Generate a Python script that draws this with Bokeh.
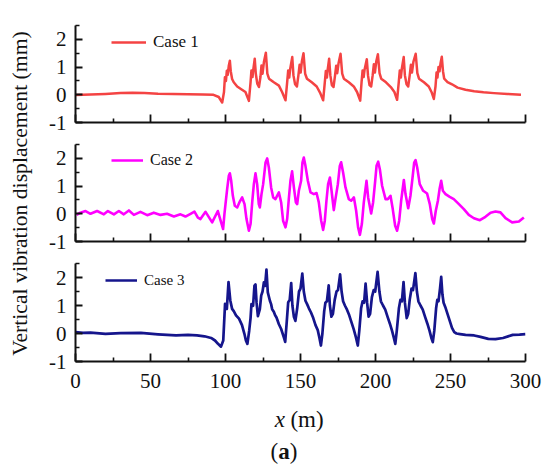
from bokeh.plotting import figure
from bokeh.models import Range1d, FixedTicker, Legend, LegendItem, Label, ColumnDataSource
from bokeh.layouts import row, column
from bokeh.embed import file_html
from bokeh.resources import INLINE

SERIF = "Liberation Serif"

# ---------------- data ----------------
case1_pts = [
    (0, -0.01), (10, 0.01), (20, 0.03), (30, 0.06), (38, 0.07), (46, 0.06), (55, 0.04),
    (65, 0.03), (75, 0.02), (85, 0.01), (92, 0.0), (95.5, -0.08), (97.8, -0.28),
    (99.0, 0.1), (99.6, 0.63), (100.3, 0.5), (100.9, 0.87), (101.5, 0.72), (102.2, 1.05),
    (102.9, 1.23), (103.5, 0.85), (104.4, 0.57), (105.5, 0.45), (107.8, 0.3), (110.0, 0.22),
    (113.3, 0.1), (115.6, -0.22),
    (116.7, 0.45), (117.3, 0.88), (118.0, 0.64), (118.5, 0.9), (119.5, 1.3), (120.2, 0.76),
    (121.2, 0.4), (122.3, 0.28), (123.3, 0.64), (124.0, 1.06), (124.7, 0.76), (125.6, 1.18),
    (126.9, 1.52), (127.9, 0.76), (129.0, 0.58), (132.2, 0.45), (135.6, 0.33), (137.8, 0.09),
    (140.0, -0.2),
    (141.1, 0.45), (141.8, 0.88), (142.5, 0.62), (143.1, 0.92), (144.5, 1.36), (145.3, 0.7),
    (146.4, 0.38), (147.6, 0.3), (148.6, 0.7), (149.4, 1.08), (150.1, 0.8), (150.9, 1.2),
    (152.0, 1.5), (153.1, 0.76), (154.3, 0.58), (157.5, 0.45), (160.8, 0.3), (163.0, 0.08),
    (165.1, -0.2),
    (166.2, 0.45), (166.9, 0.86), (167.6, 0.62), (168.1, 0.9), (169.1, 1.3), (169.9, 0.7),
    (170.9, 0.35), (172.0, 0.28), (173.0, 0.68), (173.8, 1.05), (174.5, 0.78), (175.4, 1.15),
    (176.7, 1.48), (177.8, 0.76), (178.9, 0.58), (182.2, 0.45), (185.5, 0.3), (187.7, 0.1),
    (189.8, -0.21),
    (190.7, 0.45), (191.4, 0.88), (192.1, 0.64), (192.7, 0.9), (194.2, 1.28), (195.0, 0.7),
    (196.0, 0.35), (197.1, 0.3), (198.1, 0.7), (198.9, 1.1), (199.6, 0.8), (200.5, 1.2),
    (201.6, 1.46), (202.7, 0.78), (203.8, 0.58), (207.0, 0.45), (210.2, 0.28), (212.6, 0.1),
    (214.4, -0.18),
    (215.5, 0.45), (216.2, 0.88), (216.9, 0.62), (217.5, 0.92), (218.8, 1.36), (219.6, 0.7),
    (220.7, 0.38), (221.8, 0.3), (222.8, 0.7), (223.6, 1.08), (224.3, 0.8), (225.3, 1.2),
    (226.8, 1.48), (227.9, 0.78), (229.0, 0.58), (232.3, 0.45), (235.5, 0.3), (237.5, 0.08),
    (238.9, -0.15),
    (240.0, 0.3), (240.7, 0.8), (241.3, 0.62), (242.0, 1.0), (242.7, 0.85), (243.4, 1.15),
    (244.2, 1.37), (245.0, 0.85), (245.8, 0.58), (248.0, 0.46), (251.0, 0.38), (254.7, 0.26),
    (260.0, 0.18), (265.8, 0.13), (272.0, 0.09), (279.0, 0.06), (288.0, 0.03), (297.0, 0.0),
]

case2_x = [0.7, 3.3, 6.7, 10.0, 14.4, 18.9, 21.6, 25.6, 28.9, 32.2, 35.6, 38.9, 43.3, 47.8,
           52.2, 56.7, 61.0, 65.6, 70.0, 73.3, 76.7, 79.3, 81.6, 83.3, 86.7, 91.1, 94.9, 98.4,
           99.3, 100.0, 101.1, 102.2, 102.9, 103.8, 104.9, 106.2, 107.8, 109.6,
           111.1, 112.7, 114.0, 115.6, 116.7, 117.8, 118.9, 120.0, 121.1, 122.2,
           122.9, 124.0, 125.1, 126.7, 127.8, 128.9, 130.4, 131.8, 133.3, 135.6,
           137.1, 138.4, 140.0, 141.1, 142.2, 143.3, 144.4, 145.6, 146.9, 147.8,
           148.9, 150.4, 151.3, 152.2, 153.3, 154.9, 156.7, 158.9, 160.7, 162.2,
           163.8, 165.1, 166.2, 167.3, 168.4, 169.6, 170.7, 172.2, 173.3, 174.9,
           176.2, 177.1, 178.4, 180.0, 182.2, 183.8, 185.6, 187.1, 188.4, 189.6,
           190.9, 192.2, 194.0, 195.1, 197.1, 198.4, 199.8, 200.7, 201.8, 202.9,
           204.4, 206.7, 208.2, 210.0, 211.5, 213.1, 214.4, 215.8, 217.1, 218.9,
           220.0, 221.8, 223.3, 224.7, 225.8, 226.7, 227.8, 229.5, 231.8, 234.4,
           236.2, 237.8, 238.9, 240.2, 241.6, 242.7, 243.8, 244.9, 246.7, 249.5,
           252.2, 255.6, 258.9, 262.2, 265.6, 269.6, 273.3, 276.7, 280.0, 283.3,
           286.7, 291.1, 295.6, 298.9]
case2_y = [-0.04, 0.04, 0.1, 0.0, 0.1, -0.02, 0.1, -0.02, 0.1, -0.02, 0.12, -0.04, 0.07, -0.05,
           0.04, -0.04, 0.0, -0.1, -0.02, -0.1, 0.0, 0.08, -0.14, -0.19, 0.07, -0.31, 0.1, -0.55,
           0.0, 0.35, 0.89, 1.37, 1.46, 1.19, 0.65, 0.29, 0.23, 0.45,
           0.59, 0.35, -0.19, -0.61, -0.37, 0.41, 1.07, 1.46, 1.07, 0.35,
           0.23, 0.71, 1.07, 1.85, 2.0, 1.67, 0.95, 0.59, 0.53, 0.77,
           0.41, -0.25, -0.49, -0.19, 0.53, 1.19, 1.53, 0.95, 0.41, 0.35,
           0.83, 1.19, 1.85, 2.03, 1.73, 1.19, 0.77, 0.71, 0.75, 0.41,
           -0.25, -0.58, -0.25, 0.47, 1.07, 1.31, 0.83, 0.13, 0.53, 1.07,
           1.73, 1.86, 1.49, 0.95, 0.53, 0.47, 0.59, 0.11, -0.49, -0.76,
           -0.37, 0.41, 1.19, 0.59, 0.01, 0.41, 1.19, 1.73, 1.88, 1.61,
           1.01, 0.53, 0.53, 0.65, 0.17, -0.43, -0.61, -0.25, 0.47, 1.22,
           0.71, 0.2, 0.65, 1.31, 1.85, 1.94, 1.67, 1.07, 0.83, 0.73,
           0.35, -0.19, -0.35, 0.11, 0.47, 0.89, 1.19, 0.83, 0.71, 0.61,
           0.53, 0.35, 0.17, -0.04, -0.16, -0.23, -0.11, 0.04, 0.08, 0.05,
           -0.16, -0.31, -0.28, -0.13]

case3_pts = [
    (0, 0.05), (5, 0.02), (10, 0.03), (20, -0.01), (30, 0.01), (43.6, 0.02), (55, -0.03),
    (67, -0.07), (75, -0.05), (81, -0.07), (86, -0.1), (90.4, -0.16), (93, -0.25), (95, -0.37),
    (97, -0.47), (98.5, -0.25), (99.7, 1.06), (100.9, 0.88), (102, 1.84), (103.2, 1.18),
    (104.4, 0.88), (105.5, 0.8), (107, 0.65), (109, 0.53), (111, 0.3), (112.6, -0.01),
    (113.6, -0.25), (114.6, -0.37),
    (115.8, 0.1), (116.7, 0.55), (117.3, 1.05), (118.4, 0.99), (119.3, 1.71), (120.0, 1.75),
    (120.7, 1.11), (121.6, 0.62), (122.9, 0.87), (123.8, 1.35), (124.7, 1.5), (125.6, 1.83),
    (126.4, 1.7), (127.3, 2.28), (128.2, 1.47), (129.6, 1.17), (130.4, 1.05), (131.1, 0.87),
    (132.2, 0.78), (133.1, 0.65), (134.0, 0.57), (135.6, 0.33), (137.1, 0.16), (138.9, -0.14),
    (139.8, -0.3),
    (140.8, 0.4), (141.8, 1.12), (142.8, 1.2), (143.8, 1.8), (144.6, 1.0), (145.6, 0.6),
    (146.6, 0.45), (147.8, 0.9), (149.0, 1.5), (150.0, 1.6), (151.2, 2.14), (152.2, 1.5),
    (153.3, 1.17), (154.4, 1.05), (155.6, 0.9), (157.0, 0.75), (158.5, 0.55), (160.0, 0.3),
    (161.5, 0.12), (162.6, -0.15), (163.6, -0.43),
    (164.6, 0.0), (165.8, 0.8), (166.6, 1.1), (167.6, 1.15), (168.8, 1.72), (169.6, 1.0),
    (170.6, 0.6), (171.6, 0.7), (172.8, 1.2), (174.0, 1.5), (175.0, 1.55), (176.4, 2.11),
    (177.4, 1.5), (178.4, 1.15), (179.6, 1.0), (181.0, 0.85), (182.5, 0.65), (184.0, 0.4),
    (185.5, 0.15), (187.0, -0.15), (188.2, -0.43),
    (189.2, 0.1), (190.4, 0.9), (191.4, 1.15), (192.4, 1.1), (193.4, 1.78), (194.4, 1.1),
    (195.4, 0.6), (196.4, 0.7), (197.6, 1.3), (198.8, 1.55), (199.8, 1.5), (201.4, 2.2),
    (202.6, 1.5), (203.6, 1.15), (205.0, 1.0), (206.5, 0.85), (208.0, 0.6), (209.6, 0.35),
    (211.0, 0.1), (212.2, -0.15), (213.2, -0.37),
    (214.2, 0.1), (215.6, 0.9), (216.6, 1.2), (217.6, 1.15), (218.7, 1.84), (219.6, 1.1),
    (220.8, 0.55), (221.8, 0.7), (222.8, 1.2), (224.0, 1.6), (225.0, 1.55), (226.6, 2.16),
    (227.6, 1.5), (228.6, 1.15), (230.0, 1.0), (231.5, 0.85), (233.0, 0.6), (234.6, 0.35),
    (236.0, 0.1), (237.2, -0.15), (238.2, -0.31),
    (239.2, 0.1), (240.4, 0.9), (241.2, 1.2), (242.0, 1.15), (243.0, 1.6), (243.8, 2.02),
    (244.6, 1.4), (245.4, 1.1), (246.5, 0.95), (248.0, 0.7), (249.5, 0.45), (251.0, 0.2),
    (252.5, 0.05), (254.0, 0.0), (256.4, -0.02), (260.0, -0.05), (265.8, -0.07), (270.0, -0.12),
    (275.2, -0.19), (280.0, -0.2), (285.0, -0.16), (291.5, -0.05), (296.0, -0.04), (300.0, -0.02),
]

case1_x = [p[0] for p in case1_pts]
case1_y = [p[1] for p in case1_pts]
case3_x = [p[0] for p in case3_pts]
case3_y = [p[1] for p in case3_pts]

series_names = ["Case 1", "Case 2", "Case 3"]
series_colors = ["#F44343", "#FF00FF", "#15158C"]

x_ticks = [0, 50, 100, 150, 200, 250, 300]
x_minor = [25, 75, 125, 175, 225, 275]
x_tick_labels = ["0", "50", "100", "150", "200", "250", "300"]
y_ticks = [-1, 0, 1, 2]
y_minor = [-0.5, 0.5, 1.5, 2.5]
y_tick_labels = ["-1", "0", "1", "2"]

y_title = "Vertical vibration displacement (mm)"

LEFT_W = 36          # width of the strip holding the shared y title
B_LEFT, B_RIGHT = 39, 25
P3_BOTTOM = 42
INK = "#111111"


def make_panel(xs, ys, color, lw, name, leg_x, leg_y, leg_w, leg_fs, frame_h,
               border_top, border_bottom, show_labels):
    p = figure(frame_width=450, frame_height=frame_h,
               x_range=Range1d(0, 300), y_range=Range1d(-1, 2.5),
               toolbar_location=None, output_backend="svg",
               min_border_left=B_LEFT, min_border_right=B_RIGHT,
               min_border_top=border_top, min_border_bottom=border_bottom)
    p.grid.visible = False
    p.outline_line_color = None
    p.background_fill_color = "white"
    p.border_fill_color = "white"

    src = ColumnDataSource(dict(x=xs, y=ys))
    r = p.line("x", "y", source=src, line_color=color, line_width=lw, line_join="round")

    for ax in (p.xaxis[0], p.yaxis[0]):
        ax.axis_line_width = 2
        ax.axis_line_color = INK
        ax.major_tick_line_width = 1.8
        ax.minor_tick_line_width = 1.6
        ax.major_tick_line_color = INK
        ax.minor_tick_line_color = INK
        ax.major_tick_out = 0
        ax.minor_tick_out = 0
        ax.major_label_text_font = SERIF
        ax.major_label_text_color = INK

    xa = p.xaxis[0]
    xa.ticker = FixedTicker(ticks=x_ticks, minor_ticks=x_minor)
    xa.major_tick_in = 8
    xa.minor_tick_in = 4
    if show_labels:
        xa.major_label_overrides = {t: l for t, l in zip(x_ticks, x_tick_labels)}
        xa.major_label_text_font_size = "21px"
        xa.major_label_standoff = 12
    else:
        xa.major_label_overrides = {t: "" for t in x_ticks}
        xa.major_label_text_font_size = "1px"
        xa.major_label_standoff = 0

    ya = p.yaxis[0]
    ya.ticker = FixedTicker(ticks=y_ticks, minor_ticks=y_minor)
    ya.major_label_overrides = {t: l for t, l in zip(y_ticks, y_tick_labels)}
    ya.major_tick_in = 7
    ya.minor_tick_in = 4
    ya.major_label_text_font_size = "21px"
    ya.major_label_standoff = 9

    legend = Legend(items=[LegendItem(label=name, renderers=[r])],
                    location=(leg_x, leg_y), glyph_width=leg_w, glyph_height=20,
                    label_height=20, label_standoff=7, padding=0, margin=0, spacing=0,
                    border_line_color=None, background_fill_alpha=0,
                    label_text_font=SERIF, label_text_font_size=leg_fs,
                    label_text_color=INK)
    p.add_layout(legend)
    return p


p1 = make_panel(case1_x, case1_y, series_colors[0], 2.5, series_names[0], 36, 70, 35, "17px",
                97, 25, 11, False)
p2 = make_panel(case2_x, case2_y, series_colors[1], 2.6, series_names[1], 36, 71, 32, "16px",
                97, 11, 11, False)
p3 = make_panel(case3_x, case3_y, series_colors[2], 2.7, series_names[2], 30, 71, 32, "15px",
                98, 11, P3_BOTTOM, True)

# caption strip: x-axis title "x (m)" and "(a)"
cap_top = 133 + 119 + 11 + 98 + P3_BOTTOM
cap_h = 468 - cap_top
cap = figure(frame_width=450, frame_height=cap_h, x_range=Range1d(0, 300),
             y_range=Range1d(0, cap_h), x_axis_type=None, y_axis_type=None,
             toolbar_location=None, output_backend="svg",
             min_border_left=B_LEFT, min_border_right=B_RIGHT,
             min_border_top=0, min_border_bottom=0)
cap.grid.visible = False
cap.outline_line_color = None
base_x = 468 - 419
base_a = 468 - 450.5
cap.add_layout(Label(x=139.7, y=base_x, text="x", text_font=SERIF, text_font_size="23px",
                     text_font_style="italic", text_align="right", text_baseline="alphabetic",
                     text_color=INK))
cap.add_layout(Label(x=143.3, y=base_x, text="(m)", text_font=SERIF, text_font_size="23px",
                     text_align="left", text_baseline="alphabetic", text_color=INK))
cap.add_layout(Label(x=130.0, y=base_a, text="(", text_font=SERIF, text_font_size="23px",
                     text_align="left", text_baseline="alphabetic", text_color=INK))
cap.add_layout(Label(x=135.1, y=base_a, text="a", text_font=SERIF, text_font_size="23px",
                     text_font_style="bold", text_align="left", text_baseline="alphabetic",
                     text_color=INK))
cap.add_layout(Label(x=142.8, y=base_a, text=")", text_font=SERIF, text_font_size="23px",
                     text_align="left", text_baseline="alphabetic", text_color=INK))

# shared y-axis title, drawn as the label of an otherwise empty axis
lab = figure(width=LEFT_W, height=468, x_range=Range1d(0, 1), y_range=Range1d(0, 1),
             x_axis_type=None, toolbar_location=None, output_backend="svg",
             min_border_left=32, min_border_right=0, min_border_top=10, min_border_bottom=92)
lab.grid.visible = False
lab.outline_line_color = None
lya = lab.yaxis[0]
lya.ticker = FixedTicker(ticks=[])
lya.axis_line_color = None
lya.major_tick_line_color = None
lya.minor_tick_line_color = None
lya.major_tick_out = 0
lya.minor_tick_out = 0
lya.major_label_text_font_size = "1px"
lya.axis_label = y_title
lya.axis_label_text_font = SERIF
lya.axis_label_text_font_size = "21.7px"
lya.axis_label_text_font_style = "normal"
lya.axis_label_text_color = INK
lya.axis_label_standoff = 1

layout = row(lab, column(p1, p2, p3, cap))

open("out.html", "w").write(file_html(layout, INLINE))
